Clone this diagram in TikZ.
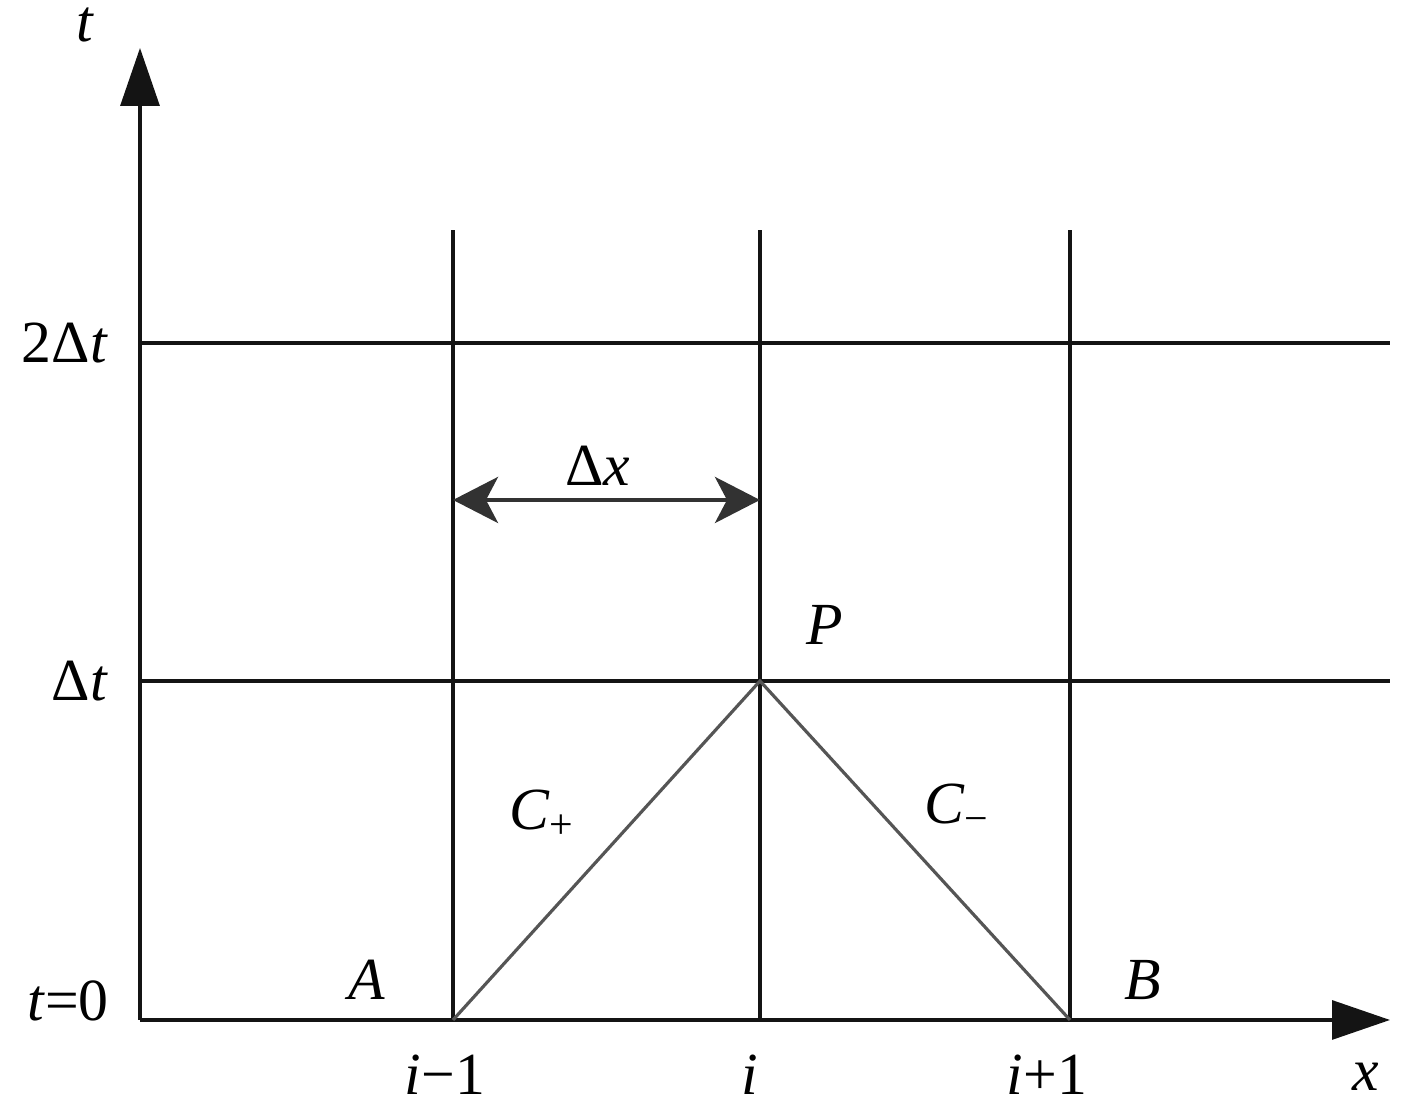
\documentclass[tikz,border=0pt]{standalone}
\usepackage{fontspec}
\setmainfont{Liberation Serif}
\usepackage{xcolor}
\usetikzlibrary{arrows.meta}
\definecolor{primary}{RGB}{20, 20, 20}
\definecolor{charline}{RGB}{85, 85, 85}
\definecolor{spanline}{RGB}{50, 50, 50}
\tikzset{
  gridline/.style={primary,line width=0.9pt},
  axisline/.style={primary,line width=0.9pt,-{Triangle[length=5.8mm,width=3.9mm]}},
  lbl/.style={font=\fontsize{17}{20}\selectfont,inner sep=0pt}
}

\begin{document}
\begin{tikzpicture}
\useasboundingbox (-1.40,-0.84) rectangle (12.77,10.20);
\coordinate (O) at (0,0);
\coordinate (Xend) at (12.5,0);
\coordinate (Tend) at (0,9.72);
\coordinate (Im1) at (3.13,0);
\coordinate (Ic) at (6.20,0);
\coordinate (Ip1) at (9.30,0);
\coordinate (Im1top) at (3.13,7.90);
\coordinate (Ictop) at (6.20,7.90);
\coordinate (Ip1top) at (9.30,7.90);
\coordinate (L1) at (0,3.39);
\coordinate (R1) at (12.5,3.39);
\coordinate (L2) at (0,6.77);
\coordinate (R2) at (12.5,6.77);
\coordinate (P) at (6.20,3.39);
\coordinate (DxL) at (3.13,5.20);
\coordinate (DxR) at (6.20,5.20);
% grid
\draw[gridline] (Im1) -- (Im1top);
\draw[gridline] (Ic) -- (Ictop);
\draw[gridline] (Ip1) -- (Ip1top);
\draw[gridline] (L1) -- (R1);
\draw[gridline] (L2) -- (R2);
% axes
\draw[axisline] (O) -- (Xend);
\draw[axisline] (O) -- (Tend);
% characteristics
\draw[charline,line width=0.9pt] (Im1) -- (P) -- (Ip1);
% spacing
\draw[spanline,line width=1.2pt,{Stealth[length=4.5mm,width=4.6mm,inset=1.2mm]}-{Stealth[length=4.5mm,width=4.6mm,inset=1.2mm]}] (DxL) -- (DxR);
% labels
\node[lbl] (tlab) at (-0.55,9.95) {\textit{t}};
\node[lbl] (tlab2) at (-0.75,6.77) {2Δ\textit{t}};
\node[lbl] (tlab1) at (-0.60,3.39) {Δ\textit{t}};
\node[lbl] (tlab0) at (-0.72,0.19) {\textit{t}=0};
\node[lbl] (xlabm) at (3.05,-0.55) {\textit{i}−1};
\node[lbl] (xlabc) at (6.10,-0.55) {\textit{i}};
\node[lbl] (xlabp) at (9.07,-0.55) {\textit{i}+1};
\node[lbl] (xlab) at (12.26,-0.57) {\textit{x}};
\node[lbl] (Alab) at (2.27,0.40) {\textit{A}};
\node[lbl] (Blab) at (10.03,0.40) {\textit{B}};
\node[lbl] (Plab) at (6.85,3.95) {\textit{P}};
\node[lbl] (Cplus) at (4.02,2.06) {\textit{C}\textsubscript{+}};
\node[lbl] (Cminus) at (8.17,2.12) {\textit{C}\textsubscript{−}};
\node[lbl] (dxlab) at (4.58,5.54) {Δ\textit{x}};
\end{tikzpicture}
\end{document}
